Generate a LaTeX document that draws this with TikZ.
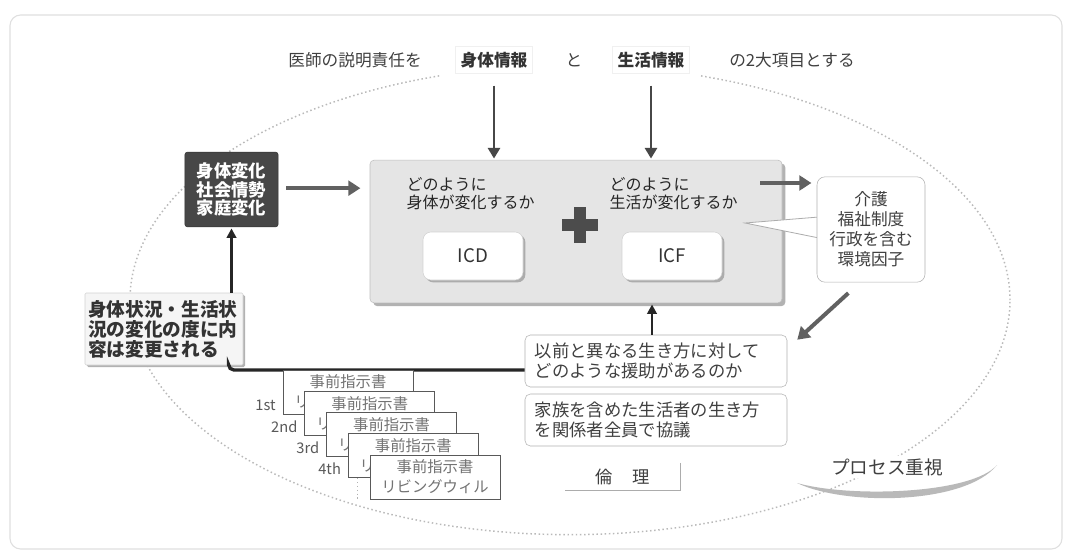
\documentclass[tikz,border=0pt]{standalone}
\usepackage{fontspec}
\setmainfont{Noto Sans CJK JP}
\usetikzlibrary{arrows.meta,shadows,calc}
\begin{document}
\begin{tikzpicture}[x=0.75pt,y=-0.75pt,
  every node/.style={inner sep=1pt, text=black!80},
  toptxt/.style={fill=white, inner sep=3pt, font=\fontsize{12.5}{15}\selectfont, text=black!75},
  infotxt/.style={fill=white, draw=gray!12, inner sep=4pt, font=\fontsize{12.5}{15}\selectfont\bfseries, text=black!80},
  mainbox/.style={draw=gray!50, fill=gray!20, rounded corners=3pt, minimum width=309pt, minimum height=107pt,
     drop shadow={shadow xshift=2.5pt, shadow yshift=-2.5pt, fill=gray!60, opacity=1}},
  gtxt/.style={align=left, font=\fontsize{12}{13.5}\selectfont, text=black!85},
  codebox/.style={fill=white, draw=gray!35, rounded corners=6pt, minimum width=75pt, minimum height=36pt,
     drop shadow={shadow xshift=1.8pt, shadow yshift=-1.8pt, fill=gray!65, opacity=1},
     font=\fontsize{14}{16}\selectfont, text=black!80},
  darkbox/.style={fill=black!72, draw=black!80, rounded corners=2pt, minimum width=70pt, minimum height=56pt,
     text=white, font=\fontsize{13}{13.8}\selectfont\bfseries, align=center},
  callout/.style={fill=white, draw=gray!60, rounded corners=6pt, minimum width=81pt, minimum height=79pt,
     align=center, font=\fontsize{12.5}{15}\selectfont, text=black!75},
  statbox/.style={fill=gray!8, draw=gray!35, rounded corners=1pt, minimum width=118.5pt, minimum height=54pt,
     inner xsep=2pt, align=left, text width=114pt, font=\fontsize{14}{15}\selectfont\bfseries, text=black!80,
     drop shadow={shadow xshift=1.5pt, shadow yshift=-1.5pt, fill=gray!60, opacity=1}},
  linebox/.style={fill=white, draw=gray!60, rounded corners=4pt, minimum width=196.5pt, minimum height=39pt,
     inner xsep=7pt, align=left, text width=182pt, font=\fontsize{13}{15}\selectfont, text=black!75},
  card/.style={fill=white, draw=black!65, line width=0.6pt, minimum width=97.5pt, minimum height=33pt,
     inner sep=0pt, align=center, font=\fontsize{11.5}{15}\selectfont, text=black!55},
  cardlab/.style={font=\fontsize{11}{13}\selectfont, text=black!65, inner sep=0pt},
  bigarrow/.style={line width=3pt, draw=black!62, -{Triangle[length=9pt,width=11pt]}},
  downarrow/.style={line width=2pt, draw=black!72, -{Triangle[length=8pt,width=9pt]}},
  thinarrow/.style={line width=2pt, draw=black!85, -{Triangle[length=7pt,width=7pt]}},
  conn/.style={line width=2.5pt, draw=black!85, rounded corners=4pt}
]
\useasboundingbox (0,0) rectangle (1071,556);
\fill[white] (0,0) rectangle (1071,556);
\draw[gray!25, line width=0.8pt, rounded corners=8pt] (10,15) rectangle (1062,549);
\draw[gray!55, dotted, line width=1.1pt] (570,300) ellipse [x radius=330pt, y radius=176pt];
\fill[white] (440,42) rectangle (700,80);

% top row
\node[toptxt] (h1) at (355,60) {医師の説明責任を};
\node[infotxt] (i1) at (494,60) {身体情報};
\node[toptxt] (h2) at (574,60) {と};
\node[infotxt] (i2) at (651,60) {生活情報};
\node[toptxt] (h3) at (792,60) {の2大項目とする};

% main box
\node[mainbox] (main) at (576,231.5) {};
\node[gtxt, anchor=west] (q1) at (405,193.5) {どのように\\身体が変化するか};
\node[gtxt, anchor=west] (q2) at (608,193.5) {どのように\\生活が変化するか};
\fill[black!70] (574,207) rectangle (586,243);
\fill[black!70] (562,219) rectangle (598,231);
\node[codebox] (icd) at (473,256) {ICD};
\node[codebox] (icf) at (672,256) {ICF};

\draw[downarrow, shorten <=9pt, shorten >=1pt] (i1.south) -- (i1.south |- main.north);
\draw[downarrow, shorten <=9pt, shorten >=1pt] (i2.south) -- (i2.south |- main.north);

% dark box
\node[darkbox] (dk) at (231.5,189.5) {身体変化\\社会情勢\\家庭変化};
\draw[bigarrow, shorten <=6pt, shorten >=7pt] ([yshift=1pt]dk.east) -- ([yshift=1pt]dk.east -| main.west);

% callout
\coordinate (apex) at (745,223);
\coordinate (w1) at (819,217);
\coordinate (w2) at (819,238);
\filldraw[fill=white, draw=gray!65, line width=0.6pt] (w1) -- (apex) -- (w2);
\node[callout] (cal) at (871,229.5) {介護\\福祉制度\\行政を含む\\環境因子};
\coordinate (a1) at (760,183);
\draw[bigarrow, shorten >=4pt] (a1) -- (a1 -| cal.west);

% right-bottom boxes
\node[linebox] (b1) at (656,361) {以前と異なる生き方に対して\\どのような援助があるのか};
\node[linebox] (b2) at (656,420) {家族を含めた生活者の生き方\\を関係者全員で協議};
\draw[bigarrow] ([xshift=-17pt,yshift=-8pt]cal.south) -- ([xshift=7.5pt,yshift=-3.75pt]b1.north east);
\draw[thinarrow, shorten >=1pt] ([xshift=-3pt]b1.north) -- ([xshift=-3pt]b1.north |- main.south);

% status box
\node[statbox] (st) at (164,329) {身体状況・生活状\\況の変化の度に内\\容は変更される};
\draw[thinarrow, shorten >=1pt] (st.north -| dk.south) -- (dk.south);
\draw[conn] ([xshift=-11pt]st.south east) |- ([yshift=-6.75pt]b1.west);

% cards
\foreach \i in {1,...,5} {
  \node[card] (c\i) at ({348+21.75*(\i-1)}, {392+21.25*(\i-1)}) {事前指示書\\リビングウィル};
}
\foreach \i/\l in {1/1st,2/2nd,3/3rd,4/4th} {
  \node[cardlab, anchor=east] (l\i) at ([xshift=-5pt,yshift=-10pt]c\i.west) {\l};
}
\coordinate (d1) at ([xshift=7pt]c4.south west);
\draw[dotted, gray!60, line width=0.9pt] (d1) -- ++(0,21);

% ethics
\node[minimum width=86pt, minimum height=20pt, font=\fontsize{13}{15}\selectfont, text=black!75] (eth) at (622.5,476.5) {倫\hspace{1.1em}理};
\draw[gray!65, line width=0.9pt] (eth.north east) -- (eth.south east) -- (eth.south west);

% process
\fill[gray!55] (797,483) .. controls (845,506) and (965,505) .. (997,465) .. controls (972,494) and (850,498) .. cycle;
\node[fill=white, inner sep=2pt, font=\fontsize{14}{16}\selectfont, text=black!75] (proc) at (887,467) {プロセス重視};
\end{tikzpicture}
\end{document}
